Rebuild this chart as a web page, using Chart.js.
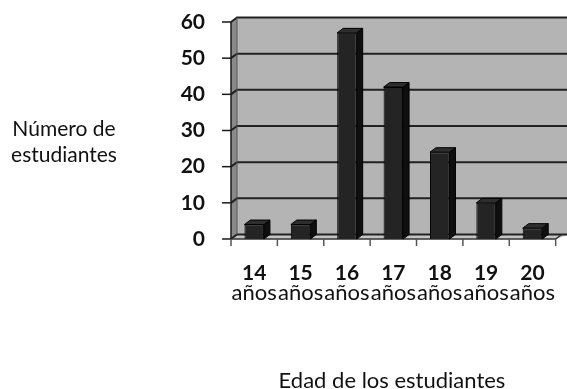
<!DOCTYPE html>
<html>
<head>
<meta charset="utf-8">
<script src="https://cdn.jsdelivr.net/npm/chart.js@4.4.1/dist/chart.umd.min.js"></script>
<style>
  html, body { margin: 0; padding: 0; background: #fff; }
  #wrap { width: 567px; height: 389px; }
</style>
</head>
<body>
<div id="wrap"><canvas id="c" width="567" height="389"></canvas></div>
<script>
// Student ages and how many students have each age
const ages = ['14', '15', '16', '17', '18', '19', '20'];
const unitLabels = ['años', 'años', 'años', 'años', 'años', 'años', 'años'];
const students = [4, 4, 57, 42, 24, 10, 3];
const yTicks = [0, 10, 20, 30, 40, 50, 60];
const yTitleLines = ['Número de', 'estudiantes'];
const xTitle = 'Edad de los estudiantes';

const DEPTH_X = 6;     // 3D depth offset to the right
const DEPTH_Y = -4.5;  // 3D depth offset upwards

// Grey walls, floor and grid drawn behind the bars
const walls3d = {
  id: 'walls3d',
  beforeDatasetsDraw(chart) {
    const { ctx, chartArea: a } = chart;
    const y = chart.scales.y, x = chart.scales.x;
    const W = chart.width;
    ctx.save();
    // back wall
    ctx.fillStyle = '#b4b4b4';
    ctx.fillRect(a.left + DEPTH_X, a.top + DEPTH_Y, W - a.left - DEPTH_X, a.bottom - a.top);
    // side wall
    ctx.fillStyle = '#8a8a8a';
    ctx.beginPath();
    ctx.moveTo(a.left, a.top);
    ctx.lineTo(a.left + DEPTH_X, a.top + DEPTH_Y);
    ctx.lineTo(a.left + DEPTH_X, a.bottom + DEPTH_Y);
    ctx.lineTo(a.left, a.bottom);
    ctx.closePath();
    ctx.fill();
    // floor
    ctx.fillStyle = '#c4c4c4';
    ctx.beginPath();
    ctx.moveTo(a.left, a.bottom);
    ctx.lineTo(a.left + DEPTH_X, a.bottom + DEPTH_Y);
    ctx.lineTo(W + 2, a.bottom + DEPTH_Y);
    ctx.lineTo(a.right, a.bottom);
    ctx.closePath();
    ctx.fill();
    // grid lines on back and side wall
    ctx.strokeStyle = '#222';
    ctx.lineWidth = 2;
    yTicks.forEach(v => {
      const py = y.getPixelForValue(v);
      ctx.beginPath();
      ctx.moveTo(a.left, py);
      ctx.lineTo(a.left + DEPTH_X, py + DEPTH_Y);
      ctx.lineTo(W + 2, py + DEPTH_Y);
      ctx.stroke();
    });
    // back wall left edge
    ctx.lineWidth = 1;
    ctx.strokeStyle = '#555';
    ctx.beginPath();
    ctx.moveTo(a.left + DEPTH_X, a.top + DEPTH_Y);
    ctx.lineTo(a.left + DEPTH_X, a.bottom + DEPTH_Y);
    ctx.stroke();
    // floor front edge
    ctx.strokeStyle = '#333';
    ctx.lineWidth = 1.5;
    ctx.beginPath();
    ctx.moveTo(a.left, a.bottom);
    ctx.lineTo(a.right, a.bottom);
    ctx.lineTo(a.right + DEPTH_X, a.bottom + DEPTH_Y);
    ctx.stroke();
    // value axis line and tick marks
    ctx.strokeStyle = '#1a1a1a';
    ctx.lineWidth = 1.5;
    ctx.beginPath();
    ctx.moveTo(a.left, a.top);
    ctx.lineTo(a.left, a.bottom);
    ctx.stroke();
    yTicks.forEach(v => {
      const py = y.getPixelForValue(v);
      ctx.beginPath();
      ctx.moveTo(a.left - 9, py);
      ctx.lineTo(a.left, py);
      ctx.stroke();
    });
    // category tick marks
    ctx.strokeStyle = '#555';
    for (let i = 0; i <= ages.length; i++) {
      const px = x.getPixelForValue(i - 0.5);
      ctx.beginPath();
      ctx.moveTo(px, a.bottom);
      ctx.lineTo(px, a.bottom + 7);
      ctx.stroke();
    }
    ctx.restore();
  },
  // top and side faces of each bar
  afterDatasetsDraw(chart) {
    const { ctx } = chart;
    const meta = chart.getDatasetMeta(0);
    ctx.save();
    ctx.strokeStyle = '#000';
    ctx.lineWidth = 1;
    ctx.lineJoin = 'round';
    meta.data.forEach(bar => {
      const p = bar.getProps(['x', 'y', 'base', 'width'], true);
      const l = p.x - p.width / 2, r = p.x + p.width / 2;
      // side face
      ctx.fillStyle = '#0f0f0f';
      ctx.beginPath();
      ctx.moveTo(r, p.y);
      ctx.lineTo(r + DEPTH_X, p.y + DEPTH_Y);
      ctx.lineTo(r + DEPTH_X, p.base + DEPTH_Y);
      ctx.lineTo(r, p.base);
      ctx.closePath();
      ctx.fill();
      ctx.stroke();
      // top face
      ctx.fillStyle = '#2e2e2e';
      ctx.beginPath();
      ctx.moveTo(l, p.y);
      ctx.lineTo(l + DEPTH_X, p.y + DEPTH_Y);
      ctx.lineTo(r + DEPTH_X, p.y + DEPTH_Y);
      ctx.lineTo(r, p.y);
      ctx.closePath();
      ctx.fill();
      ctx.stroke();
    });
    ctx.restore();
  },
  // horizontal value-axis title and category-axis title
  afterDraw(chart) {
    const { ctx } = chart;
    ctx.save();
    ctx.fillStyle = '#111';
    ctx.textAlign = 'center';
    ctx.textBaseline = 'alphabetic';
    ctx.font = '21px Lato';
    ctx.fillText(yTitleLines[0], 64, 136);
    ctx.fillText(yTitleLines[1], 64, 162);
    ctx.font = '22px Lato';
    ctx.fillText(xTitle, 392, 388);
    ctx.restore();
  }
};

new Chart(document.getElementById('c'), {
  type: 'bar',
  data: {
    labels: ages,
    datasets: [{
      data: students,
      backgroundColor: '#242424',
      borderColor: '#000',
      borderWidth: 1,
      barPercentage: 0.42,
      categoryPercentage: 1.0
    }]
  },
  options: {
    responsive: false,
    animation: false,
    events: [],
    layout: { padding: { left: 0, right: 5, top: 22, bottom: 64 } },
    plugins: { legend: { display: false }, tooltip: { enabled: false } },
    scales: {
      x: {
        position: 'bottom',
        offset: true,
        grid: { display: false, drawTicks: false },
        border: { display: false },
        ticks: { color: '#111', font: { family: 'Lato', size: 21, weight: 'bold' }, padding: 22, maxRotation: 0, autoSkip: false },
        afterFit(s) { s.height = 43; }
      },
      x2: {
        type: 'category',
        labels: unitLabels,
        position: 'bottom',
        offset: true,
        grid: { display: false, drawTicks: false },
        border: { display: false },
        ticks: { color: '#111', font: { family: 'Lato', size: 22 }, padding: -2, maxRotation: 0, autoSkip: false },
        afterFit(s) { s.height = 43; }
      },
      y: {
        min: 0,
        max: 60,
        grid: { display: false, drawTicks: false },
        border: { display: false },
        ticks: { stepSize: 10, color: '#111', font: { family: 'Lato', size: 21, weight: 'bold' }, padding: 26 },
        afterFit(s) { s.width = 231; s.paddingTop = 12; s.paddingBottom = 12; }
      }
    }
  },
  plugins: [walls3d]
});
</script>
</body>
</html>
